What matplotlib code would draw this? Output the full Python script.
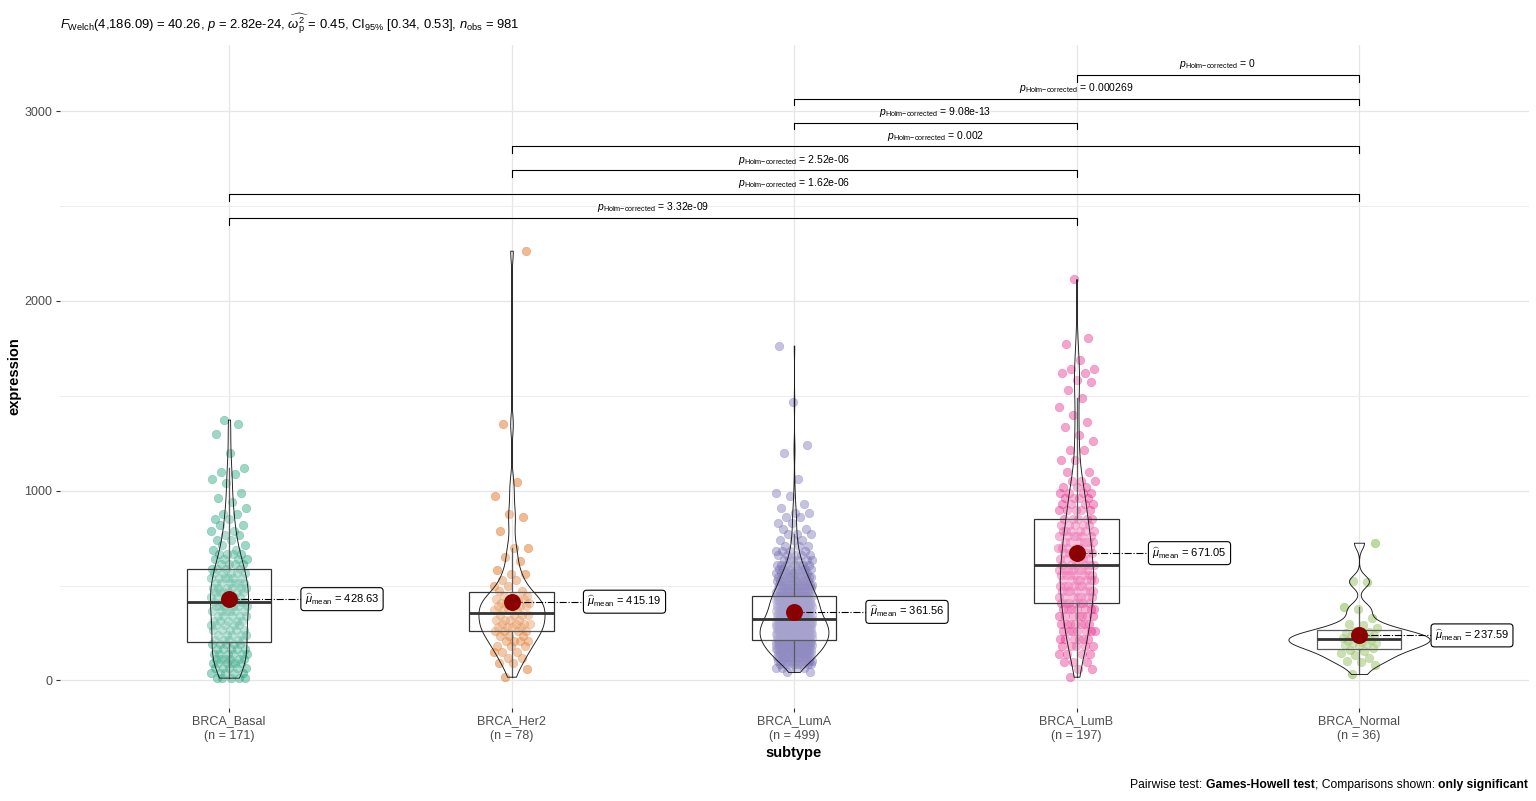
import numpy as np
import matplotlib
matplotlib.use("Agg")
import matplotlib.pyplot as plt

plt.rcParams['font.family'] = ['Liberation Sans', 'DejaVu Sans']
plt.rcParams['mathtext.fontset'] = 'custom'
plt.rcParams['mathtext.rm'] = 'Liberation Sans'
plt.rcParams['mathtext.it'] = 'Liberation Sans:italic'
plt.rcParams['mathtext.bf'] = 'Liberation Sans:bold'

# ---- data (values with how many points sit at each) ----
subtypes = ["BRCA_Basal", "BRCA_Her2", "BRCA_LumA", "BRCA_LumB", "BRCA_Normal"]
colors = ["#1B9E77", "#D95F02", "#7570B3", "#E7298A", "#66A61E"]

basal_vals = [15, 40, 65, 90, 115, 140, 165, 190, 215, 240, 265, 290, 315, 340, 365, 390,
              415, 440, 465, 490, 515, 540, 565, 590, 615, 640, 665, 690, 715, 740, 765,
              790, 820, 850, 880, 910, 940, 960, 990, 1040, 1060, 1090, 1100, 1120, 1200,
              1300, 1350, 1375]
basal_counts = [5, 5, 5, 6, 6, 6, 5, 5, 5, 5, 5, 5, 5, 5, 6, 6,
                6, 6, 6, 6, 6, 6, 5, 4, 4, 4, 4, 2, 2, 2, 2,
                2, 2, 2, 2, 1, 1, 1, 1, 1, 1, 1, 1, 1, 1,
                1, 1, 1]

her2_vals = [20, 60, 90, 120, 150, 180, 210, 235, 260, 280, 300, 320, 345, 370, 390, 410,
             430, 445, 470, 500, 530, 560, 580, 630, 650, 700, 790, 860, 880, 970, 1045,
             1350, 2265]
her2_counts = [1, 1, 2, 2, 3, 3, 4, 3, 4, 4, 4, 4, 4, 4, 4, 4,
               4, 3, 2, 2, 2, 2, 1, 1, 1, 2, 1, 1, 1, 1, 1,
               1, 1]

luma_vals = [45, 65, 85, 105, 125, 145, 165, 185, 205, 225, 245, 265, 285, 305, 325, 345,
             365, 385, 405, 425, 445, 465, 485, 505, 525, 545, 565, 585, 610, 635, 660,
             685, 710, 740, 770, 800, 830, 860, 885, 910, 930, 970, 990, 1060, 1200, 1240,
             1470, 1765]
luma_counts = [2, 5, 9, 12, 15, 17, 20, 22, 23, 25, 25, 25, 25, 24, 20, 19,
               18, 17, 17, 18, 18, 13, 12, 12, 11, 10, 9, 8, 7, 6, 5,
               4, 3, 3, 3, 2, 2, 2, 2, 1, 1, 1, 1, 1, 1, 1,
               1, 1]

lumb_vals = [20, 60, 100, 140, 180, 220, 260, 300, 340, 375, 410, 440, 470, 500, 530, 555,
             580, 610, 640, 670, 700, 730, 760, 790, 820, 850, 900, 930, 960, 990, 1020,
             1050, 1100, 1160, 1215, 1260, 1295, 1335, 1360, 1400, 1440, 1490, 1530, 1575,
             1585, 1620, 1640, 1690, 1775, 1805, 2115]
lumb_counts = [1, 2, 3, 4, 5, 6, 7, 7, 7, 7, 7, 7, 7, 7, 7, 7,
               7, 6, 6, 6, 6, 6, 6, 6, 5, 5, 5, 4, 4, 4, 3,
               3, 2, 2, 2, 1, 1, 1, 1, 1, 1, 1, 1, 1,
               1, 2, 2, 1, 1, 1, 1]

normal_vals = [34, 80, 100, 105, 120, 135, 145, 155, 160, 170, 180, 185, 190, 195, 200, 205,
               210, 215, 220, 225, 230, 235, 240, 245, 250, 255, 262, 275, 290, 300, 330,
               375, 385, 520, 525, 726]
normal_counts = [1] * len(normal_vals)

mean_vals = [428.63, 415.19, 361.56, 671.05, 237.59]

# pairwise Games-Howell results (group i, group j, Holm-corrected p), bottom bracket first
pair_i = [0, 0, 1, 1, 2, 2, 3]
pair_j = [3, 4, 3, 4, 3, 4, 4]
pair_p = ["3.32e-09", "1.62e-06", "2.52e-06", "0.002", "9.08e-13", "0.000269", "0"]

subtitle = (r"$F_{\mathrm{Welch}}$(4,186.09) = 40.26, $p$ = 2.82e-24, "
            r"$\widehat{\omega_{\mathrm{p}}^{2}}$ = 0.45, CI$_{95\%}$ [0.34, 0.53], "
            r"$n_{\mathrm{obs}}$ = 981")

groups = [np.repeat(basal_vals, basal_counts), np.repeat(her2_vals, her2_counts),
          np.repeat(luma_vals, luma_counts), np.repeat(lumb_vals, lumb_counts),
          np.repeat(normal_vals, normal_counts)]
groups = [np.asarray(g, dtype=float) for g in groups]
positions = np.arange(1, len(subtypes) + 1)


def r_density(x, n=512):
    # gaussian kde with R's bw.nrd0, trimmed to the data range like geom_violin
    q75, q25 = np.percentile(x, [75, 25])
    bw = 0.9 * min(x.std(ddof=1), (q75 - q25) / 1.34) * len(x) ** -0.2
    grid = np.linspace(x.min(), x.max(), n)
    z = (grid[:, None] - x[None, :]) / bw
    dens = np.exp(-0.5 * z ** 2).sum(axis=1) / (len(x) * bw * np.sqrt(2 * np.pi))
    return grid, dens


fig = plt.figure(figsize=(15.36, 8.01), dpi=100)
ax = fig.add_axes([59.5 / 1536, 93 / 801, 1469 / 1536, 663 / 801])

# --- jittered points ---
for k, (g, c) in enumerate(zip(groups, colors)):
    idx = np.arange(len(g))
    jit = ((idx * 0.6180339887 + 0.31) % 1 - 0.5) * 0.13
    ax.scatter(positions[k] + jit, g, s=38, color=c, alpha=0.42,
               edgecolors=c, linewidths=0.4, zorder=2)

# --- boxplots ---
ax.boxplot(groups, positions=positions, widths=0.3, whis=1.5, showfliers=False,
           patch_artist=True, manage_ticks=False,
           boxprops=dict(facecolor=(1, 1, 1, 0.2), edgecolor="#333333", linewidth=0.9),
           medianprops=dict(color="#333333", linewidth=2.0),
           whiskerprops=dict(color="#333333", linewidth=0.9),
           capprops=dict(linewidth=0), zorder=3)

# --- violins (scale = "area", width = 0.5) ---
dens_all = [r_density(g) for g in groups]
dmax = max(d.max() for _, d in dens_all)
for k, (grid, d) in enumerate(dens_all):
    hw = 0.25 * d / dmax
    ax.fill_betweenx(grid, positions[k] - hw, positions[k] + hw,
                     facecolor=(1, 1, 1, 0.2), edgecolor="#1a1a1a", linewidth=0.65, zorder=3)

# --- means + labels ---
for k, m in enumerate(mean_vals):
    ax.plot([positions[k], positions[k] + 0.4], [m, m], linestyle="-.", color="black",
            linewidth=0.8, zorder=4)
    ax.scatter(positions[k], m, s=125, color="darkred", zorder=5)
    ax.text(positions[k] + 0.4, m, r"$\widehat{\mu}_{\mathrm{mean}}$" + " = %.2f" % m,
            ha="center", va="center", fontsize=8, zorder=6,
            bbox=dict(boxstyle="round,pad=0.35,rounding_size=0.3", fc="white",
                      ec="black", lw=0.8))

# --- significance brackets ---
y0, dy, tip = 2437, 125.7, 35
for k in range(len(pair_p)):
    x1, x2 = positions[pair_i[k]], positions[pair_j[k]]
    yb = y0 + dy * k
    ax.plot([x1, x1, x2, x2], [yb - tip, yb, yb, yb - tip], color="black", linewidth=0.8,
            zorder=4, clip_on=False)
    ax.text((x1 + x2) / 2, yb + 20, r"$p_{\mathrm{Holm{-}corrected}}$" + " = " + pair_p[k],
            ha="center", va="bottom", fontsize=7.5, zorder=6)

# --- axes styling ---
ax.set_xlim(0.4, 5.6)
ax.set_ylim(-145, 3349)
ax.set_yticks([0, 1000, 2000, 3000])
ax.set_yticks([500, 1500, 2500], minor=True)
ax.set_xticks(positions)
ax.set_xticklabels(["%s\n(n = %d)" % (s, len(g)) for s, g in zip(subtypes, groups)])
for lbl in ax.get_xticklabels():
    lbl.set_linespacing(1.3)
ax.grid(True, which="major", color="#E6E6E6", linewidth=0.9)
ax.grid(True, which="minor", axis="y", color="#EDEDED", linewidth=0.7)
ax.set_axisbelow(True)
for sp in ax.spines.values():
    sp.set_visible(False)
ax.tick_params(axis="both", which="major", length=2.7, width=0.8, color="#333333",
               labelcolor="#4D4D4D", labelsize=9, pad=2.5)
ax.tick_params(axis="both", which="minor", length=0)
ax.set_xlabel("subtype", fontsize=10.5, fontweight="bold", labelpad=3)
ax.set_ylabel("expression", fontsize=10.5, fontweight="bold", labelpad=0)
ax.yaxis.set_label_coords(-38 / 1469, 0.5)

fig.text(60 / 1536, 1 - 24 / 801, subtitle, fontsize=9.4, ha="left", va="center")

# caption, built right to left so the bold parts sit inline
t4 = fig.text(1528 / 1536, 1 - 791 / 801, "only significant", fontsize=8.7,
              fontweight="bold", ha="right", va="bottom")
t3 = ax.annotate("; Comparisons shown: ", xy=(0, 0), xycoords=t4, ha="right",
                 va="bottom", fontsize=8.7, annotation_clip=False)
t2 = ax.annotate("Games-Howell test", xy=(0, 0), xycoords=t3, ha="right",
                 va="bottom", fontsize=8.7, fontweight="bold", annotation_clip=False)
t1 = ax.annotate("Pairwise test: ", xy=(0, 0), xycoords=t2, ha="right",
                 va="bottom", fontsize=8.7, annotation_clip=False)

fig.savefig("out.png", dpi=100)
